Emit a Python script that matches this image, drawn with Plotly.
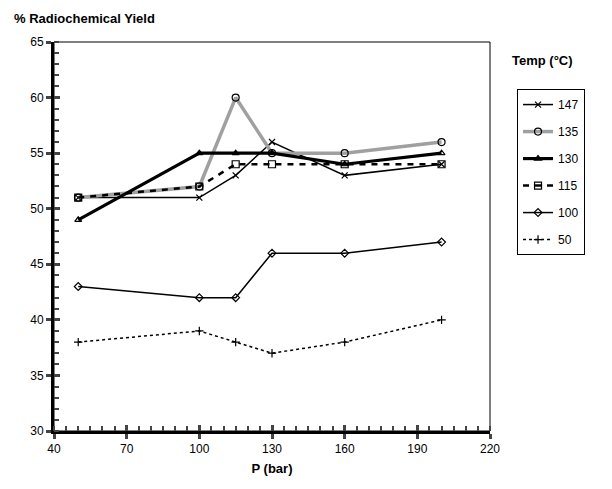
import plotly.graph_objects as go

pressure = [50, 100, 115, 130, 160, 200]
y147 = [51, 51, 53, 56, 53, 54]
y135 = [51, 52, 60, 55, 55, 56]
y130 = [49, 55, 55, 55, 54, 55]
y115 = [51, 52, 54, 54, 54, 54]
y100 = [43, 42, 42, 46, 46, 47]
y50 = [38, 39, 38, 37, 38, 40]

series = [
    ("147", y147, dict(color="black", width=1.5), dict(symbol="x-thin-open", size=6, line=dict(color="black", width=1.2))),
    ("135", y135, dict(color="#a0a0a0", width=3.5), dict(symbol="circle-open", size=7, color="black", line=dict(color="black", width=1.2))),
    ("130", y130, dict(color="black", width=3.2), dict(symbol="triangle-up-open", size=6, color="black", line=dict(color="black", width=1.2))),
    ("115", y115, dict(color="black", width=2.5, dash="6px,6px"), dict(symbol="square-open", size=7, color="black", line=dict(color="black", width=1.2))),
    ("100", y100, dict(color="black", width=1.5), dict(symbol="diamond-open", size=6, color="black", line=dict(color="black", width=1.2))),
    ("50", y50, dict(color="black", width=1.5, dash="3px,3px"), dict(symbol="cross-thin-open", size=6, line=dict(color="black", width=1.2))),
]

fig = go.Figure()
for i, (name, ys, ln, mk) in enumerate(series):
    fig.add_trace(go.Scatter(x=pressure, y=ys, mode="lines+markers", name=name,
                             line=ln, marker=mk, legendgroup=str(i)))

# invisible trace on overlay axes to draw inner major ticks
fig.add_trace(go.Scatter(x=[40], y=[30], xaxis="x2", yaxis="y2", mode="markers",
                         marker=dict(opacity=0), showlegend=False, hoverinfo="skip"))

font = "Liberation Sans"
fig.update_layout(
    width=612, height=489,
    margin=dict(l=46, r=130, t=34, b=66),
    plot_bgcolor="white", paper_bgcolor="white",
    font=dict(family=font, size=12, color="black"),
    xaxis=dict(range=[40, 220], tickvals=[40, 70, 100, 130, 160, 190, 220],
               showgrid=False, zeroline=False, showline=True, linewidth=3, linecolor="black",
               ticks="outside", ticklen=5, tickwidth=3,
               minor=dict(ticks="inside", ticklen=5, tickwidth=2, dtick=5, showgrid=False),
               title=dict(text="<b>P (bar)</b>", font=dict(size=13), standoff=9)),
    yaxis=dict(range=[30, 65], tickvals=[30, 35, 40, 45, 50, 55, 60, 65],
               showgrid=False, zeroline=False, showline=True, linewidth=3, linecolor="black",
               ticks="outside", ticklen=5, tickwidth=3,
               minor=dict(ticks="inside", ticklen=5, tickwidth=2, dtick=1, showgrid=False)),
    xaxis2=dict(overlaying="x", anchor="y", range=[40, 220], tickvals=[40, 70, 100, 130, 160, 190, 220],
                showgrid=False, zeroline=False, showticklabels=False, ticks="inside", ticklen=6, tickwidth=3),
    yaxis2=dict(overlaying="y", anchor="x", range=[30, 65], tickvals=[30, 35, 40, 45, 50, 55, 60, 65],
                showgrid=False, zeroline=False, showticklabels=False, ticks="inside", ticklen=6, tickwidth=3),
    legend=dict(x=1.062, y=0.879, xanchor="left", yanchor="top",
                bordercolor="black", borderwidth=1, bgcolor="white",
                font=dict(size=12), tracegroupgap=8, entrywidth=52),
    shapes=[dict(type="rect", xref="paper", yref="paper", x0=0, x1=1, y0=0, y1=1,
                 line=dict(color="black", width=1), layer="below")],
    annotations=[
        dict(text="<b>% Radiochemical Yield</b>", xref="paper", yref="paper", x=-0.096, y=1.037,
             xanchor="left", yanchor="bottom", showarrow=False, font=dict(size=13)),
        dict(text="<b>Temp (°C)</b>", xref="paper", yref="paper", x=1.045, y=0.929,
             xanchor="left", yanchor="bottom", showarrow=False, font=dict(size=13)),
    ],
)

fig.write_html("out.html")
